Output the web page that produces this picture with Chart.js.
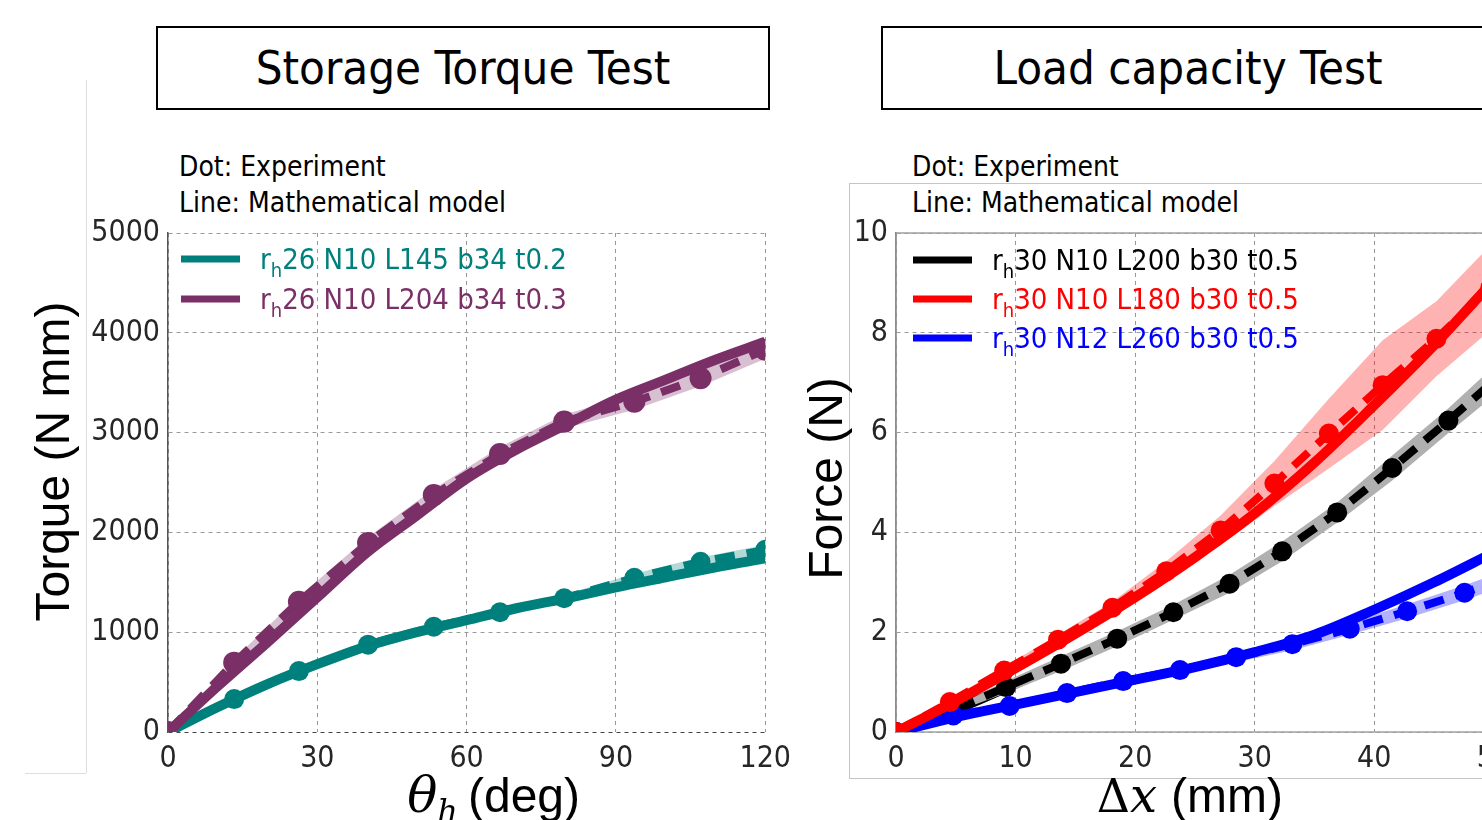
<!DOCTYPE html>
<html>
<head>
<meta charset="utf-8">
<script src="https://cdn.jsdelivr.net/npm/chart.js@4.4.1/dist/chart.umd.min.js"></script>
<style>
  html, body { margin: 0; padding: 0; background: #fff; overflow: hidden; }
  body { width: 1482px; height: 820px; position: relative; }
  .cond { font-family: "DejaVu Sans Condensed", "DejaVu Sans", sans-serif; color: #000; }
  .box { position: absolute; top: 26px; width: 610px; height: 80px; border: 2px solid #000;
         font-size: 47px; line-height: 80px; text-align: center; white-space: nowrap; }
  .note { position: absolute; font-size: 28px; line-height: 36px; white-space: nowrap; }
  canvas { position: absolute; top: 0; }
</style>
</head>
<body>
<div style="position:absolute;left:86px;top:80px;width:0;height:693px;border-left:1px solid #ddd"></div>
<div style="position:absolute;left:25px;top:773px;width:61px;height:0;border-top:1px solid #ddd"></div>
<div style="position:absolute;left:849px;top:183px;width:700px;height:594px;border:1px solid #c4c4c4"></div>

<div class="box cond" style="left:156px">Storage Torque Test</div>
<div class="box cond" style="left:881px">Load capacity Test</div>
<div class="note cond" style="left:179px;top:149px">Dot: Experiment</div>
<div class="note cond" style="left:179px;top:185px">Line: Mathematical model</div>
<div class="note cond" style="left:912px;top:149px">Dot: Experiment</div>
<div class="note cond" style="left:912px;top:185px">Line: Mathematical model</div>

<canvas id="torque" width="800" height="820" style="left:0"></canvas>
<canvas id="force" width="740" height="820" style="left:780px"></canvas>

<script>
// ---- Storage torque test (deg -> N mm) ----
const torqueTicksX = [0, 30, 60, 90, 120];
const torqueTicksY = [0, 1000, 2000, 3000, 4000, 5000];

const angleExp = [0, 13.3, 26.3, 40.2, 53.4, 66.7, 79.6, 93.7, 107, 120];
const tealExp = [0, 330, 610, 875, 1055, 1200, 1340, 1545, 1705, 1825];
const tealSd = [0, 20, 25, 30, 30, 35, 35, 40, 45, 50];
const purpleExp = [0, 695, 1305, 1895, 2375, 2785, 3110, 3310, 3545, 3830];
const purpleSd = [0, 40, 50, 60, 60, 70, 70, 80, 80, 90];

const angleModel = [0, 10, 20, 30, 40, 50, 60, 70, 80, 90, 100, 110, 120];
const tealModel = [0, 250, 480, 680, 860, 1000, 1120, 1240, 1340, 1450, 1550, 1650, 1740];
const purpleModel = [0, 460, 900, 1350, 1800, 2170, 2540, 2830, 3080, 3330, 3530, 3730, 3910];

// ---- Load capacity test (mm -> N) ----
const forceTicksX = [0, 10, 20, 30, 40, 50];
const forceTicksY = [0, 2, 4, 6, 8, 10];

const blackX = [0, 4.6, 9.2, 13.8, 18.5, 23.2, 27.9, 32.3, 36.9, 41.5, 46.2, 50.8];
const blackExp = [0, 0.42, 0.9, 1.37, 1.87, 2.4, 2.97, 3.62, 4.4, 5.29, 6.24, 7.2];
const blackSd = [0, 0.05, 0.12, 0.15, 0.15, 0.15, 0.18, 0.2, 0.2, 0.25, 0.25, 0.3];
const redX = [0, 4.5, 9.05, 13.55, 18.1, 22.6, 27.15, 31.65, 36.2, 40.7, 45.2, 49.7];
const redExp = [0, 0.6, 1.23, 1.85, 2.49, 3.22, 4.04, 4.98, 5.98, 6.95, 7.88, 8.9];
const redSd = [0, 0.05, 0.08, 0.1, 0.12, 0.2, 0.3, 0.45, 0.7, 0.9, 0.75, 0.85];
const blueX = [0, 4.8, 9.5, 14.3, 19.0, 23.75, 28.45, 33.15, 37.95, 42.75, 47.55, 52.3];
const blueExp = [0, 0.33, 0.52, 0.78, 1.02, 1.24, 1.5, 1.76, 2.07, 2.42, 2.79, 3.2];
const blueSd = [0, 0.03, 0.05, 0.06, 0.07, 0.08, 0.1, 0.12, 0.12, 0.14, 0.15, 0.15];

const dispModel = [0, 5, 10, 15, 20, 25, 30, 35, 40, 45, 50];
const blackModel = [0, 0.45, 0.97, 1.5, 2.03, 2.6, 3.25, 4.05, 5.0, 6.0, 7.1];
const redModel = [0, 0.62, 1.28, 1.97, 2.7, 3.5, 4.38, 5.4, 6.55, 7.75, 9.05];
const blueModel = [0, 0.3, 0.55, 0.8, 1.05, 1.3, 1.6, 1.95, 2.45, 3.0, 3.6];

const COND = '"DejaVu Sans Condensed", "DejaVu Sans", sans-serif';
const ARIAL = '"Liberation Sans", Arial, sans-serif';
const TEAL = '#00807c', PURPLE = '#7b2f67';

const pts = (xs, ys) => xs.map((x, i) => ({ x, y: ys[i] }));
const shift = (ys, sd, s) => ys.map((y, i) => y + s * sd[i]);

const model = (label, xs, ys, color, rank) => ({
    label, data: pts(xs, ys), borderColor: color, borderWidth: 10, pointRadius: 0,
    cubicInterpolationMode: 'monotone', fill: false, inLegend: true, rank
});
const experiment = (xs, ys, color, r) => ({
    data: pts(xs, ys), borderColor: color, borderWidth: 8, borderDash: [20, 12],
    pointRadius: r, pointBackgroundColor: color, pointBorderWidth: 0, fill: false
});
const band = (xs, ys, sd, fillColor) => [
    { data: pts(xs, shift(ys, sd, 1)), borderWidth: 0, pointRadius: 0, fill: '+1', backgroundColor: fillColor },
    { data: pts(xs, shift(ys, sd, -1)), borderWidth: 0, pointRadius: 0, fill: false }
];

// legend with subscript "h", drawn inside the plot area
const subLegend = {
    id: 'subLegend',
    afterDatasetsDraw(chart, args, o) {
        const { ctx, chartArea } = chart;
        const items = chart.data.datasets.filter(d => d.inLegend).sort((a, b) => a.rank - b.rank);
        ctx.save();
        items.forEach((d, i) => {
            const y = chartArea.top + o.top + i * o.rowH;
            const x0 = chartArea.left + o.left;
            ctx.setLineDash([]);
            ctx.strokeStyle = d.borderColor;
            ctx.lineWidth = 7;
            ctx.beginPath(); ctx.moveTo(x0, y); ctx.lineTo(x0 + 59, y); ctx.stroke();
            ctx.fillStyle = d.borderColor;
            ctx.textBaseline = 'alphabetic';
            const [head, tail] = d.label.split('_');
            let x = x0 + 79;
            ctx.font = '29px ' + COND;
            ctx.fillText(head, x, y + 10); x += ctx.measureText(head).width;
            ctx.font = '20px ' + COND;
            ctx.fillText(tail[0], x, y + 18); x += ctx.measureText(tail[0]).width;
            ctx.font = '29px ' + COND;
            ctx.fillText(tail.slice(1), x, y + 10);
        });
        ctx.restore();
    }
};

// axis titles: x title with math parts, y title rotated
const axisTitles = {
    id: 'axisTitles',
    afterDraw(chart, args, o) {
        const { ctx } = chart;
        const xs = chart.scales.x, ys = chart.scales.y;
        ctx.save();
        ctx.fillStyle = '#000';
        ctx.textBaseline = 'alphabetic';
        const cx = (xs.left + xs.right) / 2 + o.xShift;
        let total = 0;
        o.parts.forEach(p => { ctx.font = p.font; p.w = ctx.measureText(p.t).width + (p.gap || 0); total += p.w; });
        let x = cx - total / 2;
        o.parts.forEach(p => { ctx.font = p.font; ctx.fillText(p.t, x, o.baseline + (p.dy || 0)); x += p.w; });

        ctx.translate(o.yBaseX, (ys.top + ys.bottom) / 2 + o.yShift);
        ctx.rotate(-Math.PI / 2);
        ctx.font = '48px ' + ARIAL;
        ctx.textAlign = 'center';
        ctx.fillText(o.yText, 0, 0);
        ctx.restore();
    }
};

// solid frame round the plot area
const frame = {
    id: 'frame',
    beforeDatasetsDraw(chart, args, o) {
        if (!o.color) return;
        const { ctx, chartArea: a } = chart;
        ctx.save();
        ctx.strokeStyle = o.color; ctx.lineWidth = 1.5;
        ctx.strokeRect(a.left, a.top, a.right - a.left, a.bottom - a.top);
        ctx.restore();
    }
};

function axes(xTicks, yTicks, yWidth, zeroColor) {
    const tickFont = { family: COND, size: 30 };
    return {
        x: {
            type: 'linear', min: xTicks[0], max: xTicks[xTicks.length - 1],
            afterBuildTicks: s => { s.ticks = xTicks.map(v => ({ value: v })); },
            afterFit: s => { s.height = 88; },
            grid: { color: '#999', lineWidth: 1, drawTicks: false },
            border: { display: false, dash: [4, 4] },
            ticks: { color: '#262626', font: tickFont, padding: 9, maxRotation: 0, callback: v => String(v) }
        },
        y: {
            type: 'linear', min: yTicks[0], max: yTicks[yTicks.length - 1],
            afterBuildTicks: s => { s.ticks = yTicks.map(v => ({ value: v })); },
            afterFit: s => { s.width = yWidth; },
            grid: { color: c => c.tick && c.tick.value === 0 ? zeroColor : '#999', lineWidth: 1, drawTicks: false },
            border: { display: true, color: '#555', width: 1.5, dash: [4, 4] },
            ticks: { color: '#262626', font: tickFont, padding: 8, callback: v => String(v) }
        }
    };
}

new Chart(document.getElementById('torque'), {
    type: 'line',
    data: {
        datasets: [
            model('r_h26 N10 L204 b34 t0.3', angleModel, purpleModel, PURPLE, 1),
            model('r_h26 N10 L145 b34 t0.2', angleModel, tealModel, TEAL, 0),
            experiment(angleExp, purpleExp, PURPLE, 11),
            experiment(angleExp, tealExp, TEAL, 10),
            ...band(angleExp, purpleExp, purpleSd, 'rgba(123,47,103,0.3)'),
            ...band(angleExp, tealExp, tealSd, 'rgba(0,128,124,0.3)')
        ]
    },
    options: {
        responsive: false, animation: false,
        layout: { padding: { top: 233, right: 32, bottom: 0, left: 0 } },
        scales: axes(torqueTicksX, torqueTicksY, 168, '#444'),
        plugins: {
            legend: { display: false }, tooltip: { enabled: false },
            subLegend: { left: 13, top: 26, rowH: 40 },
            axisTitles: {
                xShift: 27, baseline: 812, yText: 'Torque (N mm)', yBaseX: 69, yShift: -21,
                parts: [
                    { t: 'θ', font: 'italic 50px "DejaVu Serif", serif' },
                    { t: 'h', font: 'italic 32px "DejaVu Serif", serif', dy: 10, gap: 10 },
                    { t: '(deg)', font: '48px ' + ARIAL }
                ]
            },
            frame: {}
        }
    },
    plugins: [subLegend, axisTitles, frame]
});

new Chart(document.getElementById('force'), {
    type: 'line',
    data: {
        datasets: [
            model('r_h30 N10 L180 b30 t0.5', dispModel, redModel, '#ff0000', 1),
            experiment(redX, redExp, '#ff0000', 10),
            model('r_h30 N12 L260 b30 t0.5', dispModel, blueModel, '#0000ff', 2),
            experiment(blueX, blueExp, '#0000ff', 10),
            experiment(blackX, blackExp, '#000000', 10),
            ...band(blackX, blackExp, blackSd, '#b0b0b0'),
            model('r_h30 N10 L200 b30 t0.5', dispModel, blackModel, '#000000', 0),
            ...band(redX, redExp, redSd, 'rgba(255,0,0,0.3)'),
            ...band(blueX, blueExp, blueSd, 'rgba(0,0,255,0.3)')
        ]
    },
    options: {
        responsive: false, animation: false,
        layout: { padding: { top: 233, right: 24, bottom: 0, left: 0 } },
        scales: axes(forceTicksX, forceTicksY, 116, '#999'),
        plugins: {
            legend: { display: false }, tooltip: { enabled: false },
            subLegend: { left: 17, top: 27, rowH: 39 },
            axisTitles: {
                xShift: -5, baseline: 812, yText: 'Force (N)', yBaseX: 62, yShift: -4,
                parts: [
                    { t: 'Δ', font: '46px "DejaVu Serif", serif' },
                    { t: 'x', font: 'italic 48px "DejaVu Serif", serif', gap: 14 },
                    { t: '(mm)', font: '48px ' + ARIAL }
                ]
            },
            frame: { color: '#a0a0a0' }
        }
    },
    plugins: [subLegend, axisTitles, frame]
});
</script>
</body>
</html>
